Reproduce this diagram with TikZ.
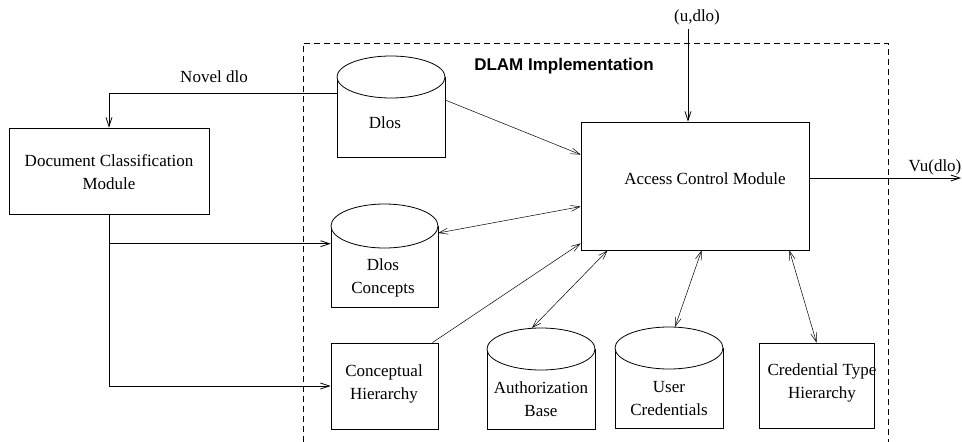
\documentclass[tikz,border=0pt]{standalone}
\usepackage{fontspec}
\setmainfont{Liberation Serif}
\newfontfamily\titlefont{Liberation Sans}
\usetikzlibrary{arrows.meta,calc}

% database drum: name, centre x, ellipse centre y, bottom y, x radius, y radius
\newcommand\dbdrum[6]{%
  \fill[white] ({#2-#5},#3) rectangle ({#2+#5},#4);
  \draw[frame] ({#2-#5},#3) -- ({#2-#5},#4) -- ({#2+#5},#4) -- ({#2+#5},#3);
  \draw[frame,fill=white] (#2,#3) ellipse ({#5} and {#6});
  \node[inner sep=0pt, minimum width={2*#5 pt}, minimum height={(#4-#3+#6)*1pt},
        anchor=north] (#1) at (#2,{#3-#6}) {};
}

\tikzset{
  frame/.style={draw=black, line width=0.8pt},
  label/.style={font=\fontsize{17}{23}\selectfont, align=center, inner sep=0pt},
  tip/.style={-{Straight Barb[length=9pt,width=6pt]}},
  tips/.style={{Straight Barb[length=9pt,width=6pt]}-{Straight Barb[length=9pt,width=6pt]}},
  wire/.style={line width=0.8pt},
  link/.style={line width=0.5pt},
}

\begin{document}
\begin{tikzpicture}[x=1pt,y=-1pt]
\useasboundingbox (0,0) rectangle (962,442);

% implementation boundary
\draw[line width=0.6pt, dash pattern=on 6pt off 4pt]
  (303,442) -- (303,43) -- (888,43) -- (888,442);
\node[font=\titlefont\bfseries\fontsize{17}{20}\selectfont, inner sep=0pt]
  (dlam) at (564,66) {DLAM Implementation};

% rectangular modules
\node[frame, minimum width=200pt, minimum height=86pt, inner sep=0pt]
  (dcm) at (109,171) {};
\node[label] (dcmtext) at (109,172)
  {\fontsize{17}{28}\selectfont Document Classification\\Module};

\node[frame, minimum width=228pt, minimum height=128pt, inner sep=0pt]
  (acm) at (695,186) {};
\node[label] (acmtext) at (705,179) {Access Control Module};

\node[frame, minimum width=107pt, minimum height=86pt, inner sep=0pt]
  (hier) at (384.5,386) {};
\node[label] (hiertext) at (384,384) {Conceptual\\Hierarchy};

\node[frame, minimum width=115pt, minimum height=85pt, inner sep=0pt]
  (credtype) at (816.5,385.5) {};
\node[label] (credtypetext) at (822,383) {Credential Type\\Hierarchy};

% databases
\dbdrum{dlos}{391}{77}{157}{54}{21}
\node[label] (dlostext) at (385,123) {Dlos};

\dbdrum{concepts}{384.5}{226}{307}{53.5}{22}
\node[label] (conceptstext) at (383,278) {Dlos\\Concepts};

\dbdrum{authz}{541}{349}{429}{54}{21}
\node[label] (authztext) at (541,399) {Authorization\\Base};

\dbdrum{usercred}{669}{348}{428}{54}{21}
\node[label] (usercredtext) at (669,399) {User\\Credentials};

% external inputs and outputs
\node[label] (uin) at (697,17) {(u,dlo)};
\node[label] (vuout) at (935,167) {Vu(dlo)};
\node[label] (novel) at (214,77) {Novel dlo};
\coordinate (vuend) at (961,178);
\coordinate (conceptsin) at ([yshift=12pt]concepts.west);
\coordinate (ustart) at ([xshift=-7pt,yshift=-4pt]acm.north |- uin.south);

% flows on the left
\draw[wire,tip] ([yshift=-37pt]dlos.north west) -| (dcm.north);
\draw[wire,tip] (dcm.south) |- (hier.west);
\draw[wire,tip] (dcm.south |- conceptsin) -- (conceptsin);

% access control inputs / output
\draw[wire,tip] (ustart) -- (ustart |- acm.north);
\draw[wire,tip] ([yshift=8pt]acm.east) -- (vuend);

% links to the access control module
\draw[link,tip] ([yshift=-44pt]dlos.north east) -- ([yshift=-33pt]acm.north west);
\draw[link,tips] ([yshift=-29pt]concepts.north east) -- ([yshift=-85pt]acm.north west);
\draw[link,tip] ([xshift=-6pt]hier.north east) -- ([yshift=7pt]acm.south west);
\draw[link,tips] ([xshift=-9pt]authz.north) -- ([xshift=27pt]acm.south west);
\draw[link,tips] ([xshift=6pt]usercred.north) -- ([xshift=121pt]acm.south west);
\draw[link,tips] (credtype.north) -- ([xshift=-20pt]acm.south east);
\end{tikzpicture}
\end{document}
